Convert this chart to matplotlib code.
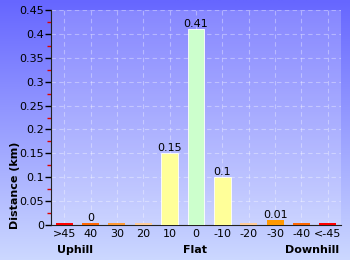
import numpy as np
import matplotlib
matplotlib.use("Agg")
import matplotlib.pyplot as plt
from matplotlib.ticker import MultipleLocator, FuncFormatter

categories = [">45", "40", "30", "20", "10", "0", "-10", "-20", "-30", "-40", "<-45"]
distance = [0.004, 0.004, 0.004, 0.004, 0.15, 0.41, 0.1, 0.004, 0.0105, 0.004, 0.004]
labels = ["", "0", "", "", "0.15", "0.41", "0.1", "", "0.01", "", ""]
colors = ["#ff0000", "#ff6600", "#ff9933", "#ffcc99", "#ffff99", "#ccffcc",
          "#ffff99", "#ffcc99", "#ff9900", "#ff6600", "#ff0000"]
groups = ["Uphill", "Flat", "Downhill"]

fig = plt.figure(figsize=(3.5, 2.6), dpi=100)

# gradient background
bg = fig.add_axes([0, 0, 1, 1], zorder=-10)
grad = np.linspace(0, 1, 256).reshape(-1, 1)
top = np.array([0x66, 0x66, 0xff]) / 255
bot = np.array([0xcc, 0xd8, 0xff]) / 255
img = top + (bot - top) * grad[..., None]
img = img.reshape(256, 1, 3)
bg.imshow(img, aspect="auto", extent=[0, 1, 0, 1])
bg.axis("off")

ax = fig.add_axes([51/350, 35/260, 290/350, 215/260])
ax.set_facecolor((1, 1, 1, 0.2))
x = np.arange(len(categories))
bars = ax.bar(x, distance, width=0.64, color=colors, linewidth=0, zorder=3)
for b, v in zip(bars, distance):
    if v > 0.05:
        b.set_edgecolor("white")
        b.set_linewidth(0.6)
for xi, v, lab in zip(x, distance, labels):
    if lab:
        ax.text(xi, v + 0.001, lab, ha="center", va="bottom", fontsize=8, zorder=4)

ax.set_xlim(-0.5, len(categories) - 0.5)
ax.set_ylim(0, 0.45)
ax.yaxis.set_major_locator(MultipleLocator(0.05))
ax.yaxis.set_minor_locator(MultipleLocator(0.025))
ax.yaxis.set_major_formatter(FuncFormatter(lambda v, p: "%g" % round(v, 2)))
ax.tick_params(axis="y", which="major", length=4, width=1, labelsize=8, pad=1)
ax.tick_params(axis="y", which="minor", length=3, width=1, color="#dd0000")
ax.set_xticks(x)
ax.set_xticklabels(categories)
ax.tick_params(axis="x", length=0, labelsize=8, pad=3)
ax.grid(True, color="white", alpha=0.35, linestyle=(0, (4, 3)), linewidth=0.8, zorder=0)
ax.set_axisbelow(True)
for s in ["top", "right"]:
    ax.spines[s].set_visible(False)
ax.spines["left"].set_color("#222222")
ax.spines["bottom"].set_color("#222222")

fig.text(15/350, 1 - 185/260, "Distance (km)", rotation=90, ha="center", va="center",
         fontsize=8, fontweight="bold")
for gx, g in zip([75, 195, 312], groups):
    fig.text(gx/350, 1 - 250/260, g, ha="center", va="center", fontsize=8, fontweight="bold")

fig.savefig("out.png", dpi=100)
